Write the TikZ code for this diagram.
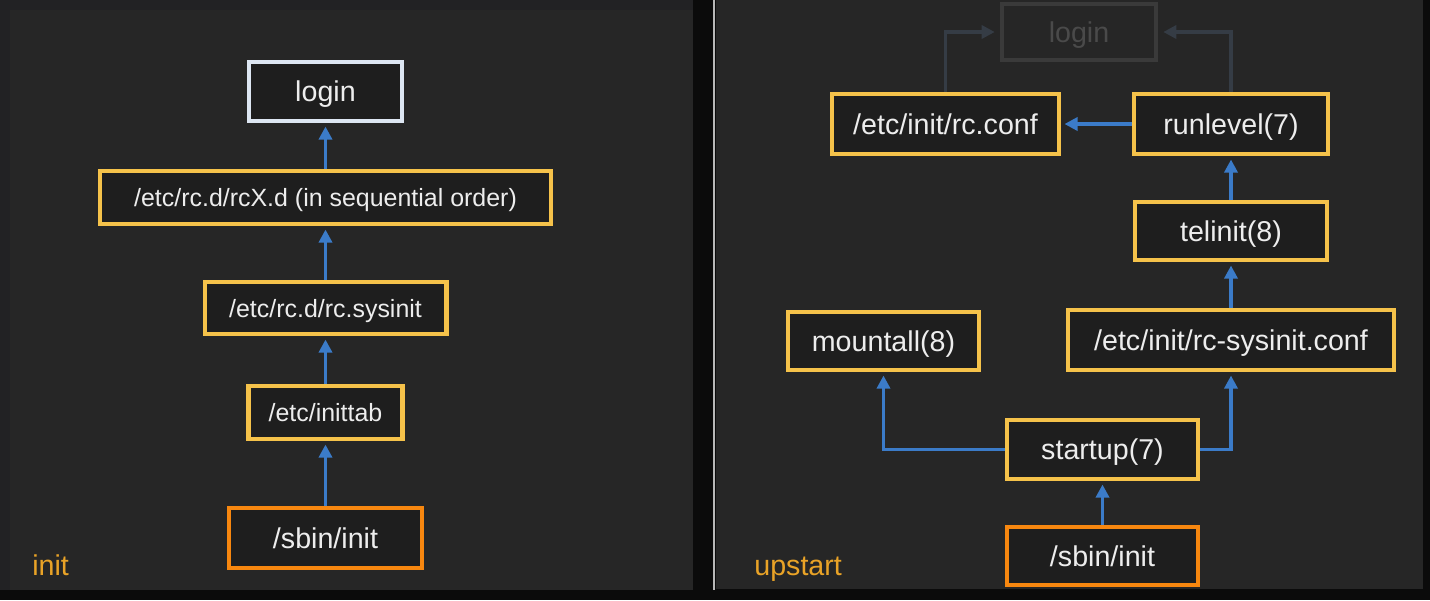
\documentclass[tikz,border=0pt]{standalone}
\usepackage{fontspec}
\setmainfont{Liberation Sans}
\usetikzlibrary{arrows.meta}

\definecolor{bgblack}{HTML}{0B0B0B}
\definecolor{bgedge}{HTML}{222224}
\definecolor{panelgray}{HTML}{262626}
\definecolor{boxfill}{HTML}{1E1E1E}
\definecolor{boxyellow}{HTML}{F5C24A}
\definecolor{boxorange}{HTML}{F7870F}
\definecolor{boxlight}{HTML}{DDE6F2}
\definecolor{flowblue}{HTML}{3B7BC8}
\definecolor{labelorange}{HTML}{E9A327}
\definecolor{fadedline}{HTML}{353C45}
\definecolor{fadedbox}{HTML}{3A3A3A}
\definecolor{fadedtext}{HTML}{4A4A4A}

\begin{document}
\begin{tikzpicture}[x=0.02cm, y=-0.02cm,
    box/.style={draw=boxyellow, line width=2.3pt, fill=boxfill, text=white!93!black,
        inner sep=0pt, text height=11.5pt, text depth=1.2pt,
        font=\fontsize{14.2}{17}\selectfont},
    bigbox/.style={box, text height=13pt, text depth=1.3pt,
        font=\fontsize{16.3}{19}\selectfont},
    startbox/.style={bigbox, draw=boxorange, line width=2.8pt},
    flow/.style={draw=flowblue, line width=2pt, shorten >=2pt,
        arrows={-Triangle[width=7.5pt, length=7.5pt]}},
    faded/.style={draw=fadedline, line width=2pt, shorten >=3pt,
        arrows={-Triangle[width=7.5pt, length=7.5pt]}},
    panellabel/.style={anchor=base west, inner sep=0pt, text=labelorange,
        font=\fontsize{16.3}{19}\selectfont}]
\useasboundingbox (0, 0) rectangle (1430, 600);
\fill[bgblack] (0, 0) rectangle (1430, 600);
\fill[bgedge] (0, 0) rectangle (693, 590);
\fill[panelgray] (10, 10) rectangle (693, 590);
\fill[panelgray] (716, 0) rectangle (1423, 589);
\draw[white!72!black, line width=1.1pt] (714, 0) -- (714, 590);

% init
\node[bigbox, draw=boxlight, minimum width=3.06cm, minimum height=1.18cm] (L_login) at (325.5, 91.5) {login};
\node[box, minimum width=9.02cm, minimum height=1.06cm] (L_rcX) at (325.5, 197.5) {/etc/rc.d/rcX.d (in sequential order)};
\node[box, minimum width=4.84cm, minimum height=1.04cm] (L_sysinit) at (325.5, 308) {/etc/rc.d/rc.sysinit};
\node[box, minimum width=3.08cm, minimum height=1.06cm] (L_inittab) at (325.5, 412.5) {/etc/inittab};
\node[startbox, minimum width=3.86cm, minimum height=1.2cm] (L_init) at (325.5, 538) {/sbin/init};
\node[panellabel] (L_title) at (32, 575) {init};

\draw[flow] (L_init) -- (L_inittab);
\draw[flow] (L_inittab) -- (L_sysinit);
\draw[flow] (L_sysinit) -- (L_rcX);
\draw[flow] (L_rcX) -- (L_login);

% upstart
\node[bigbox, draw=fadedbox, text=fadedtext, fill=panelgray, minimum width=3.08cm, minimum height=1.12cm] (R_login) at (1079, 32) {login};
\node[bigbox, minimum width=4.54cm, minimum height=1.2cm] (R_rcconf) at (945.5, 124) {/etc/init/rc.conf};
\node[bigbox, minimum width=3.88cm, minimum height=1.2cm] (R_runlevel) at (1231, 124) {runlevel(7)};
\node[bigbox, minimum width=3.84cm, minimum height=1.16cm] (R_telinit) at (1231, 231) {telinit(8)};
\node[bigbox, minimum width=6.52cm, minimum height=1.2cm] (R_sysinit) at (1231, 340) {/etc/init/rc-sysinit.conf};
\node[bigbox, minimum width=3.82cm, minimum height=1.16cm] (R_mountall) at (883.5, 341) {mountall(8)};
\node[bigbox, minimum width=3.82cm, minimum height=1.18cm] (R_startup) at (1102.5, 449.5) {startup(7)};
\node[startbox, minimum width=3.82cm, minimum height=1.16cm] (R_init) at (1102.5, 556) {/sbin/init};
\node[panellabel] (R_title) at (754, 575) {upstart};

\draw[flow] (R_init) -- (R_startup);
\draw[flow] (R_startup.west) -| (R_mountall.south);
\draw[flow] (R_startup.east) -| (R_sysinit.south);
\draw[flow] (R_sysinit) -- (R_telinit);
\draw[flow] (R_telinit) -- (R_runlevel);
\draw[flow] (R_runlevel) -- (R_rcconf);
\draw[faded] (R_rcconf.north) |- (R_login.west);
\draw[faded] (R_runlevel.north) |- (R_login.east);
\end{tikzpicture}
\end{document}
